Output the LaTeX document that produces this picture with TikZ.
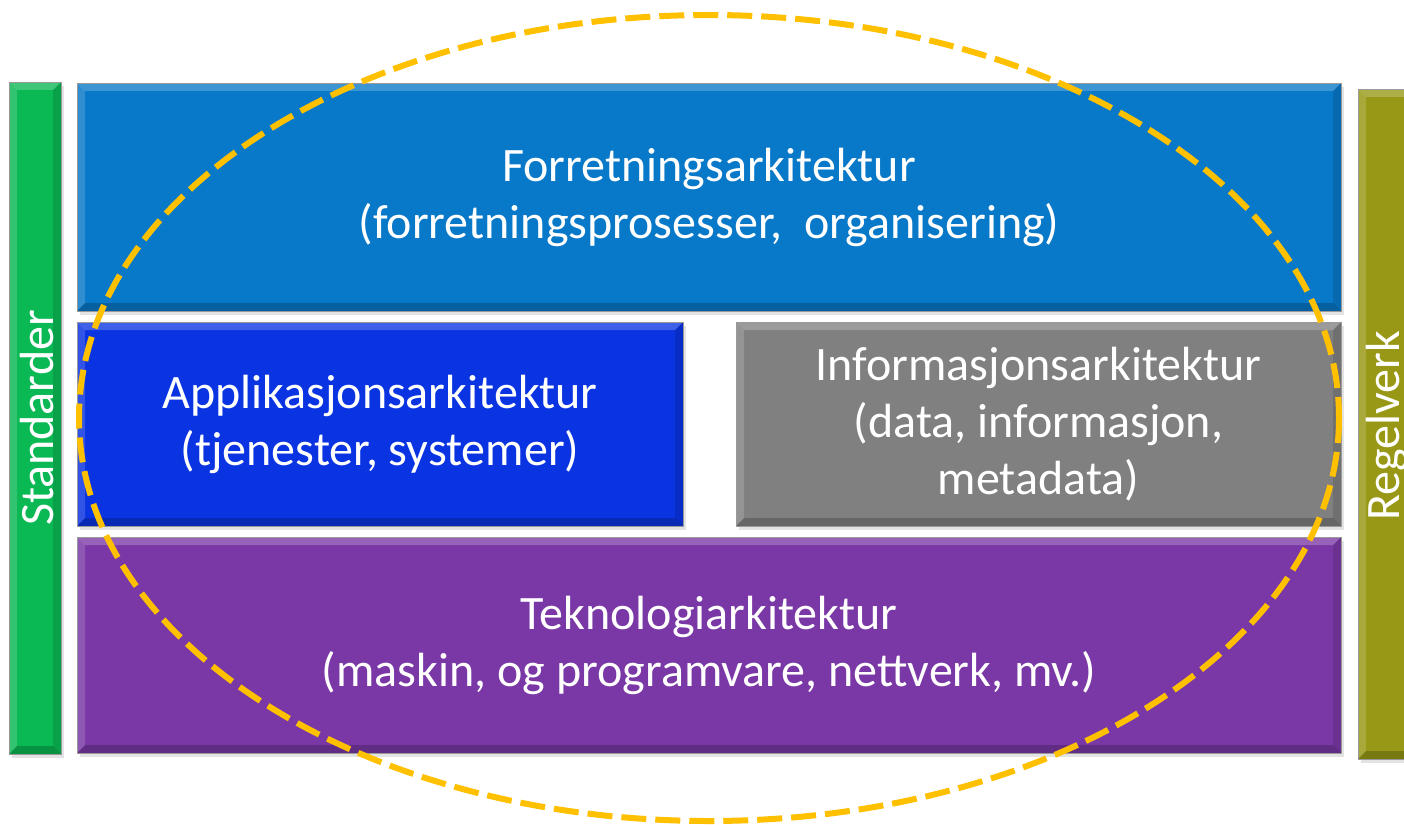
\documentclass[tikz,border=0pt]{standalone}
\usepackage{fontspec}
\setmainfont{Carlito}
\usetikzlibrary{shadows}
\definecolor{cGreen}{RGB}{10,184,84}
\definecolor{cOlive}{RGB}{152,152,22}
\definecolor{cBlueTop}{RGB}{8,120,200}
\definecolor{cBlueApp}{RGB}{10,52,226}
\definecolor{cGray}{RGB}{128,128,128}
\definecolor{cPurple}{RGB}{122,56,166}
\definecolor{cOrange}{RGB}{255,192,0}
\tikzset{
  bevel/.style={path picture={
    \path (path picture bounding box.north west) coordinate (bNW)
          (path picture bounding box.north east) coordinate (bNE)
          (path picture bounding box.south west) coordinate (bSW)
          (path picture bounding box.south east) coordinate (bSE);
    \fill[white,opacity=0.22] (bNW) -- (bNE) -- ([shift={(-8,8)}]bNE) -- ([shift={(8,8)}]bNW) -- cycle;
    \fill[white,opacity=0.16] (bNW) -- ([shift={(8,8)}]bNW) -- ([shift={(8,-8)}]bSW) -- (bSW) -- cycle;
    \fill[black,opacity=0.2] (bSW) -- (bSE) -- ([shift={(-8,-8)}]bSE) -- ([shift={(8,-8)}]bSW) -- cycle;
    \fill[black,opacity=0.12] (bNE) -- (bSE) -- ([shift={(-8,-8)}]bSE) -- ([shift={(-8,8)}]bNE) -- cycle;
  }},
  layerbox/.style={rectangle, inner sep=0pt, text=white, align=center,
    font=\fontsize{48}{57}\selectfont, bevel,
    drop shadow={shadow xshift=3pt, shadow yshift=-4pt, opacity=0.22},
    draw=black!40, line width=0.6pt},
  sidebar/.style={layerbox},
  sidetext/.style={rotate=90, text=white, font=\fontsize{48}{57}\selectfont},
  ring/.style={draw=cOrange, line width=6pt, dash pattern=on 25pt off 9pt}
}
\begin{document}
\begin{tikzpicture}[x=1pt,y=-1pt]
\useasboundingbox (0,0) rectangle (1404,824);
\node[sidebar, fill=cGreen, minimum width=52pt, minimum height=672pt] (std) at (35,418) {};
\node[sidetext] (stdtxt) at (37,418) {Standarder};
\node[sidebar, fill=cOlive, minimum width=64pt, minimum height=670pt] (reg) at (1390,424) {};
\node[sidetext] (regtxt) at (1387,426) {Regelverk};
\node[layerbox, fill=cBlueTop, minimum width=1264pt, minimum height=228pt] (bus) at (709,197)
  {Forretningsarkitektur\\(forretningsprosesser,\ \ organisering)};
\node[layerbox, fill=cBlueApp, minimum width=606pt, minimum height=204pt] (app) at (380,424)
  {Applikasjonsarkitektur\\(tjenester, systemer)};
\node[layerbox, fill=cGray, minimum width=605pt, minimum height=204pt] (inf) at (1038.5,424)
  {Informasjonsarkitektur\\(data, informasjon,\\metadata)};
\node[layerbox, fill=cPurple, minimum width=1264pt, minimum height=216pt] (tek) at (709,645)
  {Teknologiarkitektur\\(maskin, og programvare, nettverk, mv.)};
\draw[ring] (709,418) ellipse [x radius=630, y radius=403];
\end{tikzpicture}
\end{document}
